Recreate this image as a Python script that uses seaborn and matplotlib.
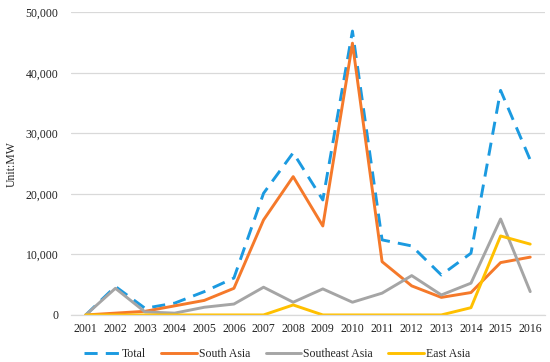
"""Installed capacity by region, 2001-2016"""
import matplotlib
matplotlib.use("Agg")
from matplotlib import pyplot as plt
from matplotlib.lines import Line2D
from matplotlib.ticker import FuncFormatter
import pandas as pd
import seaborn as sns

years = list(range(2001, 2017))
total = [0, 4700, 1100, 1950, 3850, 6100, 20100, 26800, 19000, 46900,
         12400, 11400, 6600, 10200, 37100, 25600]
south_asia = [0, 300, 600, 1500, 2400, 4400, 15700, 22850, 14700, 44900,
              8800, 4800, 2900, 3700, 8650, 9550]
southeast_asia = [0, 4400, 500, 300, 1270, 1800, 4580, 2100, 4300, 2100,
                  3600, 6500, 3300, 5250, 15850, 3850]
east_asia = [0, 0, 0, 0, 0, 0, 0, 1650, 0, 0,
             0, 0, 0, 1200, 13050, 11700]

series = {
    "Total": total,
    "South Asia": south_asia,
    "Southeast Asia": southeast_asia,
    "East Asia": east_asia,
}
colors = {
    "Total": "#1B9AE0",
    "South Asia": "#F5792A",
    "Southeast Asia": "#A5A5A5",
    "East Asia": "#FFC000",
}

df = pd.DataFrame(
    [(y, name, v) for name, vals in series.items() for y, v in zip(years, vals)],
    columns=["Year", "Region", "MW"],
)

sns.set_style("white")
plt.rcParams["font.family"] = ["Liberation Serif", "DejaVu Serif"]

fig, ax = plt.subplots(figsize=(5.5, 3.62), dpi=100)
fig.subplots_adjust(left=0.129, right=0.991, top=0.966, bottom=0.13)

ax.yaxis.grid(True, color="#D9D9D9", linewidth=0.9)
ax.set_axisbelow(True)

sns.lineplot(
    data=df, x="Year", y="MW", hue="Region", style="Region",
    palette=colors, dashes={"Total": (4.5, 2.8), "South Asia": "",
                            "Southeast Asia": "", "East Asia": ""},
    linewidth=2.1, ax=ax, legend=False,
)

ax.set_xlim(2000.5, 2016.5)
ax.set_ylim(0, 50000)
ax.set_xticks(years)
ax.set_xticklabels([str(y) for y in years])
ax.set_yticks(range(0, 50001, 10000))
ax.yaxis.set_major_formatter(FuncFormatter(lambda v, _: f"{int(v):,}"))
ax.tick_params(axis="both", labelsize=8.5, length=0, colors="#222222")
ax.tick_params(axis="y", pad=9)
ax.tick_params(axis="x", pad=6)
ax.set_xlabel("")
ax.set_ylabel("Unit:MW", fontsize=8.5, labelpad=6)
for s in ("top", "right", "left"):
    ax.spines[s].set_visible(False)
ax.spines["bottom"].set_color("#D9D9D9")
ax.spines["bottom"].set_linewidth(0.9)

handles = [
    Line2D([], [], color=colors["Total"], lw=2.1, dashes=(4.5, 2.8)),
    Line2D([], [], color=colors["South Asia"], lw=2.1),
    Line2D([], [], color=colors["Southeast Asia"], lw=2.1),
    Line2D([], [], color=colors["East Asia"], lw=2.1),
]
fig.legend(handles, list(series.keys()), loc="lower center", ncol=4,
           frameon=False, fontsize=8.5, handlelength=3.0, handletextpad=0.2,
           columnspacing=1.3, bbox_to_anchor=(0.504, -0.025))

fig.savefig("out.png", dpi=100)
